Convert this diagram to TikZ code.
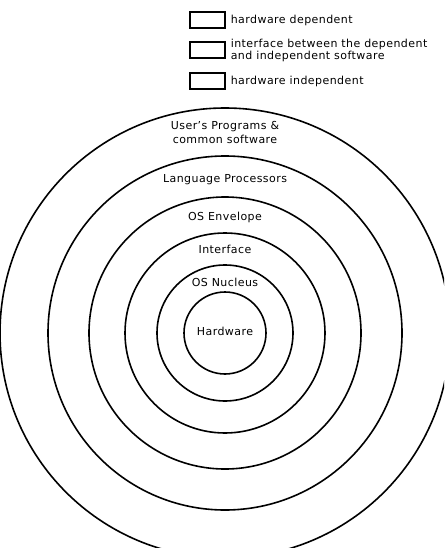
\documentclass[tikz,border=0pt]{standalone}
\usepackage{fontspec}
\setmainfont{DejaVu Sans}[LetterSpace=4]
\usetikzlibrary{positioning}
\tikzset{
  ring/.style={draw, circle, line width=1.6pt, inner sep=0pt},
  lbl/.style={font=\fontsize{11}{14}\selectfont, inner sep=1pt, align=center},
  keybox/.style={draw, line width=1.2pt, minimum width=35pt, minimum height=16pt, inner sep=0pt},
  keytext/.style={font=\fontsize{11}{12}\selectfont, align=left, inner sep=1pt, right=4pt of #1}
}

\begin{document}
\begin{tikzpicture}[x=1pt, y=-1pt]
\clip (0,0) rectangle (444,548);
\coordinate (c) at (225,333);
\foreach \nm/\rad in {hw/41, nuc/68, ifc/100, env/136, lang/177, user/225}
  \node[ring, minimum size={2*\rad pt}] (\nm) at (c) {};
\node[lbl] (hwl) at (225,331) {Hardware};
\node[lbl] (nucl) at (225,282) {OS Nucleus};
\node[lbl] (ifcl) at (225,249) {Interface};
\node[lbl] (envl) at (225,217) {OS Envelope};
\node[lbl] (langl) at (225,180) {Language Processors};
\node[lbl] (userl) at (225,132) {User's Programs \&\\common software};
% legend
\node[keybox] (k1) at (207.5,20) {};
\node[keybox] (k2) at (207.5,50) {};
\node[keybox] (k3) at (207.5,81) {};
\node[keytext=k1] (t1) {hardware dependent};
\node[keytext=k2] (t2) {interface between the dependent\\and independent software};
\node[keytext=k3] (t3) {hardware independent};
\end{tikzpicture}
\end{document}
